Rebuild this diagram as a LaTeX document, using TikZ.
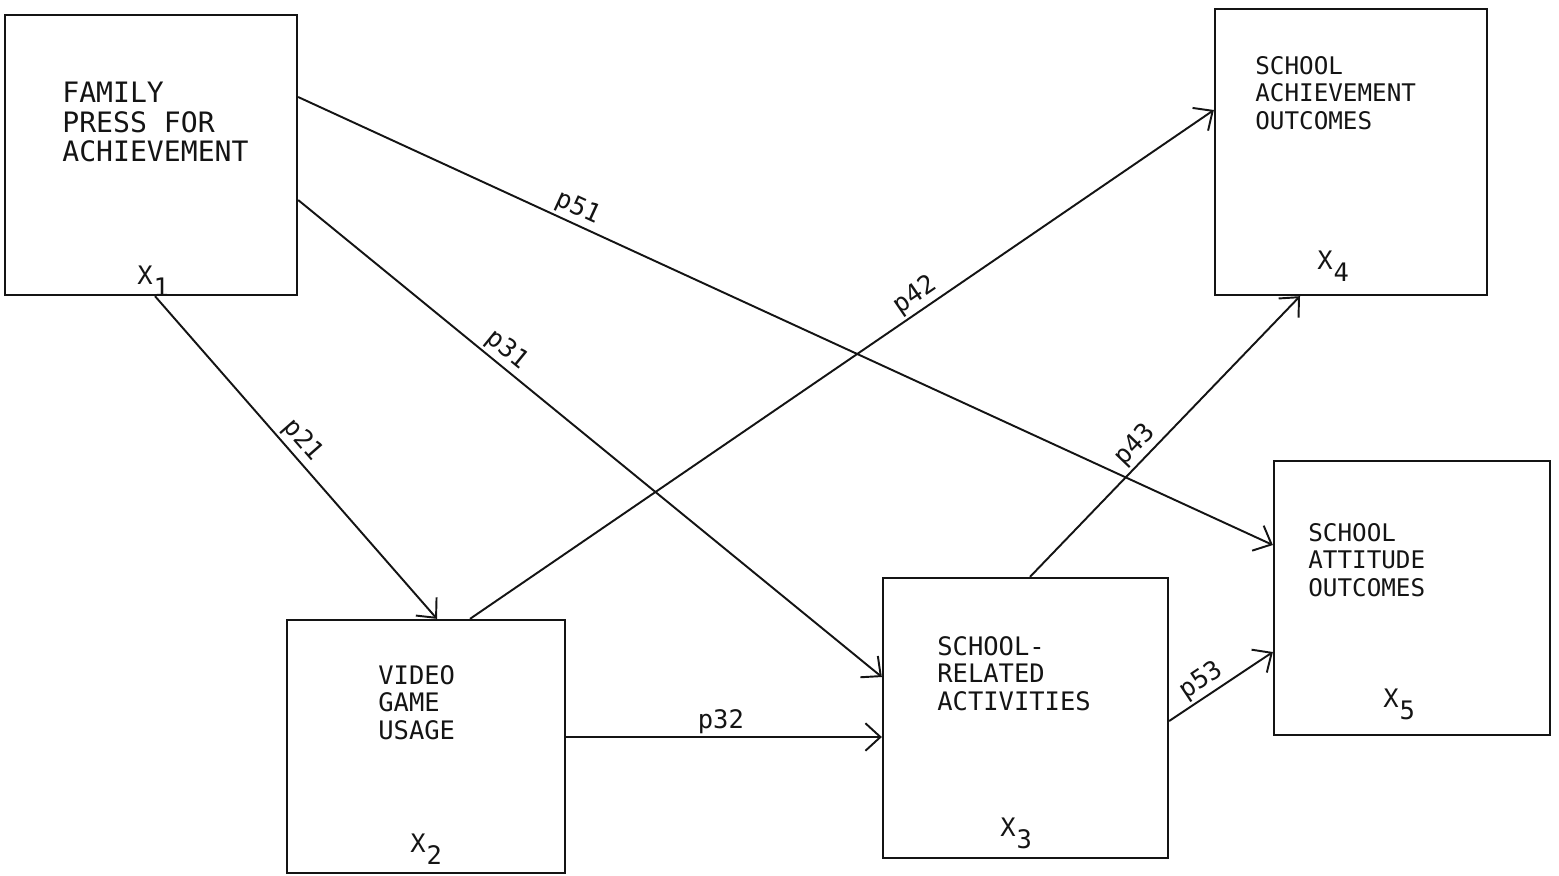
\documentclass[tikz,border=0pt]{standalone}
\usepackage{fontspec}
\usepackage{xcolor}
\usepackage{tikz}
\usetikzlibrary{positioning, calc, arrows.meta}
\newfontfamily\plotfont{DejaVu Sans Mono}
\definecolor{ink}{RGB}{20,20,20}
\newcommand{\xsub}[1]{X\kern0.5pt\raisebox{-0.8ex}{#1}}

\begin{document}
\begin{tikzpicture}[x=0.2mm, y=-0.2mm,
    % Node styles
    var/.style={rectangle, draw=ink, line width=1.3pt, inner sep=0pt},
    vartext/.style={anchor=north west, align=left, inner sep=0pt, text=ink, font=\plotfont\fontsize{14.5}{15.6}\selectfont},
    outtext/.style={vartext, font=\plotfont\fontsize{13.8}{15.6}\selectfont},
    subtext/.style={anchor=north west, inner sep=0pt, text=ink, font=\plotfont\fontsize{14.5}{15.6}\selectfont},
    coef/.style={sloped, above, inner sep=1.5pt, text=ink, font=\plotfont\fontsize{14.5}{15.6}\selectfont},
    % Edge styles
    effect/.style={draw=ink, line width=1.1pt, -{Straight Barb[length=3mm, width=5.5mm, line width=1.1pt]}}
]
\useasboundingbox (0,0) rectangle (1559,875);

% Exogenous variable
\node[var, minimum width=5.84cm, minimum height=5.6cm] (x1) at (151,155) {};
\node[vartext, font=\plotfont\fontsize{16}{16.6}\selectfont] (x1text) at (62,82) {FAMILY\\PRESS FOR\\ACHIEVEMENT};
\node[subtext] (x1sub) at (137,266) {\xsub{1}};

% Intervening variables
\node[var, minimum width=5.56cm, minimum height=5.06cm] (x2) at (426,746.5) {};
\node[vartext] (x2text) at (378,665) {VIDEO\\GAME\\USAGE};
\node[subtext] (x2sub) at (410,834) {\xsub{2}};

\node[var, minimum width=5.7cm, minimum height=5.6cm] (x3) at (1025.5,718) {};
\node[vartext] (x3text) at (937,636) {SCHOOL-\\RELATED\\ACTIVITIES};
\node[subtext] (x3sub) at (1000,818) {\xsub{3}};

% Outcome variables
\node[var, minimum width=5.44cm, minimum height=5.72cm] (x4) at (1351,152) {};
\node[outtext] (x4text) at (1255,56) {SCHOOL\\ACHIEVEMENT\\OUTCOMES};
\node[subtext] (x4sub) at (1317,251) {\xsub{4}};

\node[var, minimum width=5.52cm, minimum height=5.48cm] (x5) at (1412,598) {};
\node[outtext] (x5text) at (1308,523) {SCHOOL\\ATTITUDE\\OUTCOMES};
\node[subtext] (x5sub) at (1383,689) {\xsub{5}};

% Draw all paths
\draw[effect] ($(x1.south)+(4,0)$) -- node[coef, pos=.48] {p21} ($(x2.north)+(11,0)$);
\draw[effect] ($(x1.east)+(0,45)$) -- node[coef, pos=.34] {p31} ($(x3.west)+(0,-41)$);
\draw[effect] ($(x1.east)+(0,-58)$) -- node[coef, pos=.28] {p51} ($(x5.west)+(0,-53)$);

\draw[effect] ($(x2.north)+(44,0)$) -- node[coef, pos=.61] {p42} ($(x4.west)+(0,-42)$);
\draw[effect] ($(x2.east)+(0,-9.5)$) -- node[coef, pos=.49] {p32} ($(x3.west)+(0,19)$);

\draw[effect] ($(x3.north)+(4.5,0)$) -- node[coef, pos=.43] {p43} ($(x4.south)+(-51,0)$);
\draw[effect] ($(x3.east)+(0,3)$) -- node[coef, pos=.39] {p53} ($(x5.west)+(0,54)$);

\end{tikzpicture}
\end{document}
